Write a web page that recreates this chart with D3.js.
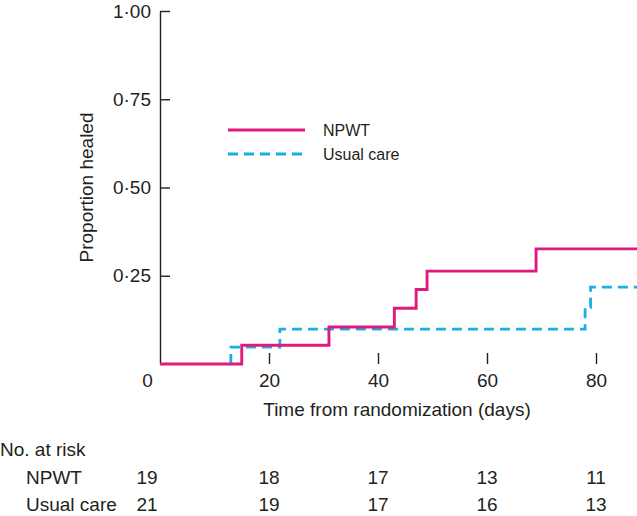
<!DOCTYPE html>
<html>
<head>
<meta charset="utf-8">
<script src="https://cdn.jsdelivr.net/npm/d3@7"></script>
<style>
  html, body { margin: 0; padding: 0; background: #fff; }
  svg { display: block; }
  text { font-family: "Liberation Sans", Arial, Helvetica, sans-serif; fill: #231f20; }
</style>
</head>
<body>
<svg id="chart" width="637" height="516"></svg>
<script>
// ---- Data ----
const npwtTimes   = [0, 15, 31, 43, 47, 49, 69, 95];
const npwtValues  = [0, 0.053, 0.105, 0.158, 0.211, 0.263, 0.326, 0.326];
const usualTimes  = [13, 13, 22, 78, 79, 95];
const usualValues = [0, 0.048, 0.099, 0.160, 0.218, 0.218];

const seriesNames = ["NPWT", "Usual care"];
const yTickValues = [0.25, 0.5, 0.75, 1.0];
const xTickValues = [0, 20, 40, 60, 80];
const riskTimes   = [0, 20, 40, 60, 80];
const riskNPWT    = [19, 18, 17, 13, 11];
const riskUsual   = [21, 19, 17, 16, 13];

const pink = "#e0197f";
const blue = "#1eace3";
const ink  = "#231f20";
const FS = 19;

const svg = d3.select("#chart");

const x = d3.scaleLinear().domain([0, 80]).range([160, 596]);
const y = d3.scaleLinear().domain([0, 1]).range([364, 11]);

const fmtY = v => d3.format(".2f")(v).replace(".", "\u00b7");

// Y axis
const yAxis = svg.append("g")
  .attr("transform", "translate(160,0)")
  .call(d3.axisLeft(y).tickValues(yTickValues).tickFormat(fmtY)
        .tickSizeInner(-10).tickSizeOuter(0).tickPadding(9));
yAxis.select(".domain").attr("stroke", ink).attr("stroke-width", 1.4);
yAxis.selectAll(".tick line").attr("stroke", ink).attr("stroke-width", 1.4);
yAxis.selectAll(".tick text").attr("font-size", FS).style("font-family", "Liberation Sans, Arial, sans-serif").attr("fill", ink);

// X axis (no domain line, ticks pointing up)
const xAxis = svg.append("g")
  .attr("transform", "translate(0,364)")
  .call(d3.axisBottom(x).tickValues(xTickValues).tickFormat(d3.format("d"))
        .tickSizeInner(-11).tickSizeOuter(0).tickPadding(10));
xAxis.select(".domain").remove();
xAxis.selectAll(".tick line").attr("stroke", ink).attr("stroke-width", 1.4);
xAxis.selectAll(".tick text").attr("font-size", FS).style("font-family", "Liberation Sans, Arial, sans-serif").attr("fill", ink);
xAxis.selectAll(".tick").filter(d => d === 0).each(function() {
  d3.select(this).select("line").remove();
  d3.select(this).select("text").attr("x", -13);
});

// Axis titles
svg.append("text")
  .attr("transform", `translate(93,${y(0.5)}) rotate(-90)`)
  .attr("text-anchor", "middle")
  .attr("font-size", FS)
  .text("Proportion healed");

svg.append("text")
  .attr("x", 397).attr("y", 416)
  .attr("text-anchor", "middle")
  .attr("font-size", FS)
  .text("Time from randomization (days)");

// Step lines
const line = d3.line().curve(d3.curveStepAfter)
  .x(d => x(d[0])).y(d => y(d[1]));

const usualData = usualTimes.map((t, i) => [t, usualValues[i]]);
const npwtData  = npwtTimes.map((t, i) => [t, npwtValues[i]]);

svg.append("path").datum(usualData)
  .attr("d", line)
  .attr("fill", "none").attr("stroke", blue).attr("stroke-width", 2.8)
  .attr("stroke-dasharray", "10,6");

svg.append("path").datum(npwtData)
  .attr("d", line)
  .attr("fill", "none").attr("stroke", pink).attr("stroke-width", 2.9);

// Legend
const legend = svg.append("g");
const legendItems = [
  { name: seriesNames[0], color: pink, dash: null, y: 130 },
  { name: seriesNames[1], color: blue, dash: "10,6", y: 154 }
];
legendItems.forEach(it => {
  legend.append("line")
    .attr("x1", 228).attr("x2", 305).attr("y1", it.y).attr("y2", it.y)
    .attr("stroke", it.color).attr("stroke-width", 2.8)
    .attr("stroke-dasharray", it.dash);
  legend.append("text")
    .attr("x", 323).attr("y", it.y).attr("dy", "0.35em")
    .attr("font-size", 16)
    .text(it.name);
});

// Number at risk table
svg.append("text").attr("x", 0).attr("y", 456).attr("font-size", FS).text("No. at risk");
const rows = [
  { label: seriesNames[0], values: riskNPWT, y: 484 },
  { label: seriesNames[1], values: riskUsual, y: 511 }
];
rows.forEach(r => {
  svg.append("text").attr("x", 26).attr("y", r.y).attr("font-size", FS).text(r.label);
  svg.selectAll(null).data(r.values).enter().append("text")
    .attr("x", (d, i) => x(riskTimes[i]) + (riskTimes[i] === 0 ? -13 : 0))
    .attr("y", r.y)
    .attr("text-anchor", "middle")
    .attr("font-size", FS)
    .text(d => d);
});
</script>
</body>
</html>
